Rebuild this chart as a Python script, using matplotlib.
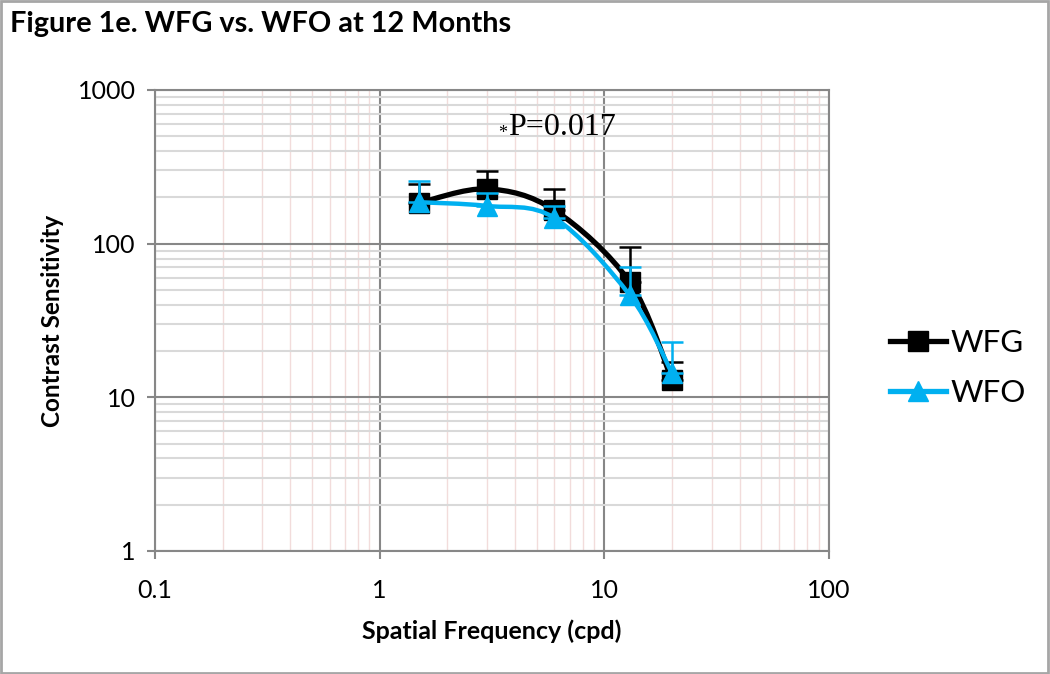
import numpy as np
import matplotlib.pyplot as plt
from matplotlib.path import Path
from matplotlib.patches import PathPatch, Rectangle

freq = [1.5, 3, 6, 13, 20]
wfg = [184, 227, 165, 56, 13]
wfg_err = [60, 70, 62, 39, 4]
wfo = [186, 176, 147, 46, 14.4]
wfo_err = [69, 39, 28, 24, 8.6]

BLACK = "#000000"
BLUE = "#00b0f0"


def smooth_path(x, y, tension=1 / 6):
    # Excel-like smoothed line: catmull-rom in log space, drawn as cubic beziers
    lx, ly = np.log10(x), np.log10(y)
    pts = np.column_stack([lx, ly])
    verts = [pts[0]]
    codes = [Path.MOVETO]
    n = len(pts)
    for i in range(n - 1):
        p0 = pts[max(i - 1, 0)]
        p1 = pts[i]
        p2 = pts[i + 1]
        p3 = pts[min(i + 2, n - 1)]
        c1 = p1 + (p2 - p0) * tension
        c2 = p2 - (p3 - p1) * tension
        verts += [c1, c2, p2]
        codes += [Path.CURVE4] * 3
    verts = 10 ** np.array(verts)
    return Path(verts, codes)


plt.rcParams["font.family"] = ["Lato", "DejaVu Sans"]

fig = plt.figure(figsize=(10.5, 6.74), dpi=100)
ax = fig.add_axes([0.1476, 0.1825, 0.6419, 0.684])
ax.set_xscale("log")
ax.set_yscale("log")
ax.set_xlim(0.1, 100)
ax.set_ylim(1, 1000)

ax.grid(True, which="minor", axis="y", color="#d9d9d9", lw=1.5, zorder=0)
ax.grid(True, which="minor", axis="x", color="#f2dcdb", lw=1.0, zorder=0)
ax.grid(True, which="major", color="#878787", lw=1.5, zorder=0.5)
for s in ax.spines.values():
    s.set_color("#878787")
    s.set_linewidth(1.5)
ax.tick_params(which="major", length=6, width=1.5, color="#878787",
               labelsize=18, pad=8)
ax.tick_params(axis="x", which="major", pad=14)
ax.tick_params(which="minor", length=0)
ax.set_xticks([0.1, 1, 10, 100], ["0.1", "1", "10", "100"])
ax.set_yticks([1, 10, 100, 1000], ["1", "10", "100", "1000"])

for y, err, col, mk, ms, lw, z in [
    (wfg, wfg_err, BLACK, "s", 15, 3.8, 3),
    (wfo, wfo_err, BLUE, "^", 15, 3.2, 5),
]:
    ax.errorbar(freq, y, yerr=[np.zeros(len(err)), err], fmt="none",
                ecolor=col, elinewidth=1.8, capsize=8, capthick=1.8, zorder=z)
    ax.add_patch(PathPatch(smooth_path(freq, y), fill=False, edgecolor=col,
                           lw=lw, capstyle="round", zorder=z + 0.5))
    ax.plot(freq, y, ls="none", marker=mk, ms=ms, color=col, zorder=z + 1)

ax.text(3.68, 490, "*", fontsize=13, family="Liberation Serif",
        ha="right", va="baseline")
ax.text(3.72, 510, "P=0.017", fontsize=23, family="Liberation Serif",
        ha="left", va="baseline")

ax.set_xlabel("Spatial Frequency (cpd)", fontsize=18, fontweight="bold",
              labelpad=13)
ax.set_ylabel("Contrast Sensitivity", fontsize=17.5, fontweight="bold",
              labelpad=10)

fig.text(0.01, 0.965, "Figure 1e. WFG vs. WFO at 12 Months", fontsize=20.8,
         fontweight="bold", va="center")

# legend
h1, = ax.plot([], [], color=BLACK, lw=3.8, marker="s", ms=14)
h2, = ax.plot([], [], color=BLUE, lw=3.8, marker="^", ms=14)
fig.legend([h1, h2], ["WFG", "WFO"], loc="center left",
           bbox_to_anchor=(0.821, 0.454), frameon=False, fontsize=22.6,
           handlelength=1.77, handletextpad=0.16, labelspacing=0.68)

fig.add_artist(Rectangle((0.001, 0.002), 0.997, 0.997, transform=fig.transFigure,
                         fill=False, edgecolor="#a6a6a6", lw=2))

fig.savefig("out.png", dpi=100)
